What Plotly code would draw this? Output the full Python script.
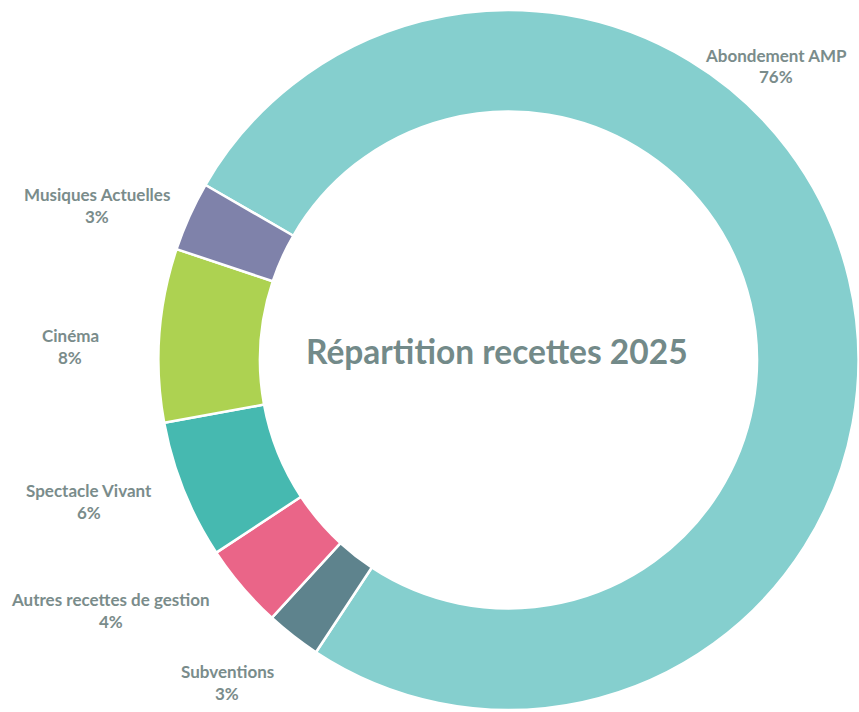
import plotly.graph_objects as go

# Data (clockwise order starting at upper-left)
categories = ["Abondement AMP", "Subventions", "Autres recettes de gestion",
              "Spectacle Vivant", "Cinéma", "Musiques Actuelles"]
values = [75.9, 2.55, 3.9, 6.4, 8.0, 3.2]
colors = ["#85cfce", "#5e838d", "#ea6588", "#46b9b0", "#add251", "#7f82aa"]
title_text = "Répartition recettes 2025"

W, H = 859, 712

total = sum(values)
percents = [f"{round(v / total * 100):.0f}%" for v in values]

fig = go.Figure(go.Pie(
    labels=categories,
    values=values,
    sort=False,
    direction="clockwise",
    rotation=300,
    hole=0.71,
    marker=dict(colors=colors, line=dict(color="white", width=2.5)),
    textinfo="none",
    hoverinfo="label+percent",
    showlegend=False,
    domain=dict(x=[158.5 / W, 858.5 / W], y=[2 / H, 1 - 10 / H]),
))

# label anchor positions (pixel centers of the two text lines)
label_pos = {
    "Abondement AMP": (776, 55, 76),
    "Subventions": (227, 671, 693),
    "Autres recettes de gestion": (111, 599, 621),
    "Spectacle Vivant": (89, 490, 512),
    "Cinéma": (70, 335, 357),
    "Musiques Actuelles": (97, 194, 216),
}

font_fam = "Lato"
txt_col = "#7a8c8b"
annotations = []
for cat, pct in zip(categories, percents):
    x, y1, y2 = label_pos[cat]
    annotations.append(dict(x=x / W, y=1 - y1 / H, xref="paper", yref="paper",
                            text=f"<b>{cat}</b>", showarrow=False,
                            xanchor="center", yanchor="middle",
                            font=dict(family=font_fam, size=17, color=txt_col)))
    annotations.append(dict(x=x / W, y=1 - y2 / H, xref="paper", yref="paper",
                            text=f"<b>{pct}</b>", showarrow=False,
                            xanchor="center", yanchor="middle",
                            font=dict(family=font_fam, size=17, color=txt_col)))

annotations.append(dict(x=497 / W, y=1 - 351 / H, xref="paper", yref="paper",
                        text=f"<b>{title_text}</b>", showarrow=False,
                        xanchor="center", yanchor="middle",
                        font=dict(family=font_fam, size=33.5, color="#738a89")))

fig.update_layout(
    width=W, height=H,
    margin=dict(l=0, r=0, t=0, b=0),
    paper_bgcolor="white",
    plot_bgcolor="white",
    annotations=annotations,
)

fig.write_html("out.html")
